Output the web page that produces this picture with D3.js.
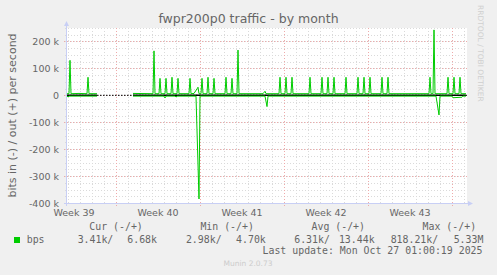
<!DOCTYPE html>
<html>
<head>
<meta charset="utf-8">
<script src="https://cdn.jsdelivr.net/npm/d3@7"></script>
<style>
body { margin: 0; background: #f0f0f0; }
svg { display: block; }
text { font-family: "DejaVu Sans", sans-serif; fill: #666; }
.mono { font-family: "DejaVu Sans Mono", monospace; }
</style>
</head>
<body>
<div id="chart-area"></div>
<script>
const WIDTH = 497, HEIGHT = 275
const PLOT = { LEFT: 67, RIGHT: 467, TOP: 28, BOTTOM: 203 }

// time: hours after t0, the graph spans 800 h (33 days + a bit)
const t0 = new Date(2025, 8, 24, 22)
const t1 = d3.timeHour.offset(t0, 800)

// out (+), [hour, kbit/s], null = no data
const outData = [
  [0, 6], [4, 6], [6, 130], [8, 6], [24, 7], [40, 6], [42, 67], [44, 6], [60, 6], [62, null],
  [132, 7], [172, 6], [174, 165], [176, 6], [184, 6], [186, 63], [188, 6], [196, 6], [198, 63], [200, 6],
  [208, 6], [210, 67], [212, 6], [220, 6], [222, 63], [224, 6], [244, 6], [246, 63], [248, 6],
  [254, 7], [260, 24], [262, 30], [264, 6], [268, 6], [270, 63], [272, 6], [280, 6], [282, 67], [284, 6],
  [292, 6], [294, 63], [296, 6], [316, 6], [318, 67], [320, 6], [328, 6], [330, 63], [332, 6],
  [340, 6], [342, 168], [344, 6], [392, 6], [396, 15], [398, 6],
  [424, 6], [426, 67], [428, 6], [436, 6], [438, 67], [440, 6], [448, 6], [450, 67], [452, 6],
  [484, 6], [486, 67], [488, 6], [508, 6], [510, 67], [512, 6], [520, 6], [522, 67], [524, 6],
  [532, 6], [534, 67], [536, 6], [556, 6], [558, 67], [560, 6], [580, 6], [582, 67], [584, 6],
  [592, 6], [594, 67], [596, 6], [604, 6], [606, 67], [608, 6], [628, 6], [630, 67], [632, 6],
  [640, 6], [642, 67], [644, 6], [724, 6], [726, 67], [728, 6], [732, 6], [734, 243], [736, 6],
  [760, 6], [762, 67], [764, 6], [772, 6], [774, 67], [776, 6], [784, 6], [786, 67], [788, 6], [798, 6]
]

// in (-), drawn negative
const inData = [
  [0, -3], [2, -6], [4, -3], [60, -3], [62, null],
  [132, -3], [194, -3], [196, -10], [198, -3], [216, -3], [218, -6], [220, -3],
  [258, -3], [264, -385], [266, -3], [396, -3], [400, -42], [402, -3],
  [738, -3], [744, -73], [746, -3], [770, -3], [772, -9], [790, -7], [792, -3], [798, -3]
]

const yMajor = [-400, -300, -200, -100, 0, 100, 200]
const yMinor = d3.range(-400, 251, 25)

const legendHead = ["Cur (-/+)", "Min (-/+)", "Avg (-/+)", "Max (-/+)"]
const legendIn = ["3.41k/", "2.98k/", "6.31k/", "818.21k/"]
const legendOut = ["6.68k", "4.70k", "13.44k", "5.33M"]

const GREEN = "#00cc00"
const AXIS = "#c8cff5"

const svg = d3.select("#chart-area").append("svg")
  .attr("width", WIDTH)
  .attr("height", HEIGHT)

svg.append("rect").attr("width", WIDTH).attr("height", HEIGHT).attr("fill", "#f0f0f0")

// scales
const x = d3.scaleTime().domain([t0, t1]).range([PLOT.LEFT, PLOT.RIGHT])
const y = d3.scaleLinear().domain([-400, 250]).range([PLOT.BOTTOM, PLOT.TOP])
const hx = h => x(d3.timeHour.offset(t0, h))

svg.append("rect")
  .attr("x", PLOT.LEFT).attr("y", PLOT.TOP)
  .attr("width", PLOT.RIGHT - PLOT.LEFT).attr("height", PLOT.BOTTOM - PLOT.TOP)
  .attr("fill", "#fff")

// grid
const days = d3.timeDay.range(t0, t1)
const weeks = d3.timeMonday.range(t0, t1)
const grid = svg.append("g").attr("shape-rendering", "crispEdges")

grid.selectAll(".vmin").data(days).enter().append("line")
  .attr("x1", d => Math.round(x(d)) + 0.5).attr("x2", d => Math.round(x(d)) + 0.5)
  .attr("y1", PLOT.TOP).attr("y2", PLOT.BOTTOM + 2)
  .attr("stroke", "#dadada").attr("stroke-dasharray", "1,2")

grid.selectAll(".hmin").data(yMinor).enter().append("line")
  .attr("x1", PLOT.LEFT - 2).attr("x2", PLOT.RIGHT)
  .attr("y1", d => Math.round(y(d)) + 0.5).attr("y2", d => Math.round(y(d)) + 0.5)
  .attr("stroke", "#dadada").attr("stroke-dasharray", "1,2")

grid.selectAll(".vmaj").data(weeks).enter().append("line")
  .attr("x1", d => Math.round(x(d)) + 0.5).attr("x2", d => Math.round(x(d)) + 0.5)
  .attr("y1", PLOT.TOP).attr("y2", PLOT.BOTTOM + 3)
  .attr("stroke", "#eeaaaa").attr("stroke-dasharray", "1,2")

grid.selectAll(".hmaj").data(yMajor).enter().append("line")
  .attr("x1", PLOT.LEFT - 3).attr("x2", PLOT.RIGHT)
  .attr("y1", d => Math.round(y(d)) + 0.5).attr("y2", d => Math.round(y(d)) + 0.5)
  .attr("stroke", "#eeaaaa").attr("stroke-dasharray", "1,2")

// zero line
svg.append("line")
  .attr("x1", PLOT.LEFT).attr("x2", PLOT.RIGHT)
  .attr("y1", y(0)).attr("y2", y(0))
  .attr("stroke", "#000").attr("stroke-dasharray", "1.5,1.5")

const defined = d => d[1] !== null
const zeroLine = d3.line().defined(defined).x(d => hx(d[0])).y(() => y(0))
svg.append("path")
  .attr("d", zeroLine(inData))
  .attr("fill", "none").attr("stroke", "#000").attr("stroke-width", 1.5)

// data lines
const line = d3.line().defined(defined).x(d => hx(d[0])).y(d => y(d[1]))
svg.append("path")
  .attr("d", line(inData))
  .attr("fill", "none").attr("stroke", GREEN).attr("stroke-width", 1)
svg.append("path")
  .attr("d", line(outData))
  .attr("fill", "none").attr("stroke", GREEN).attr("stroke-width", 1)

// axes with arrows
svg.append("line")
  .attr("x1", PLOT.LEFT - 3).attr("x2", PLOT.RIGHT + 1)
  .attr("y1", PLOT.BOTTOM + 0.5).attr("y2", PLOT.BOTTOM + 0.5)
  .attr("stroke", AXIS)
svg.append("line")
  .attr("x1", PLOT.LEFT - 0.5).attr("x2", PLOT.LEFT - 0.5)
  .attr("y1", PLOT.BOTTOM + 3).attr("y2", PLOT.TOP - 4)
  .attr("stroke", AXIS)
svg.append("path")
  .attr("d", `M${PLOT.RIGHT + 1},${PLOT.BOTTOM - 2} L${PLOT.RIGHT + 6},${PLOT.BOTTOM + 0.5} L${PLOT.RIGHT + 1},${PLOT.BOTTOM + 3}Z`)
  .attr("fill", AXIS)
svg.append("path")
  .attr("d", `M${PLOT.LEFT - 3},${PLOT.TOP - 2} L${PLOT.LEFT - 0.5},${PLOT.TOP - 7} L${PLOT.LEFT + 2},${PLOT.TOP - 2}Z`)
  .attr("fill", AXIS)

// tick labels
svg.selectAll(".ylab").data(yMajor).enter().append("text")
  .attr("x", PLOT.LEFT - 8).attr("y", d => y(d) + 3.5)
  .attr("text-anchor", "end").attr("font-size", 9.5)
  .text(d => d === 0 ? "0" : d + " k")

const fmtWeek = d3.timeFormat("Week %V")
const weekLabels = d3.timeMonday.range(d3.timeMonday.floor(t0), t1)
  .map(d => ({ d, c: d3.timeHour.offset(d, 84) }))
  .filter(w => w.c >= t0 && w.c <= t1)
svg.selectAll(".xlab").data(weekLabels).enter().append("text")
  .attr("x", w => x(w.c)).attr("y", 216)
  .attr("text-anchor", "middle").attr("font-size", 9.5)
  .text(w => fmtWeek(w.d))

// titles
svg.append("text")
  .attr("x", 248.5).attr("y", 23)
  .attr("text-anchor", "middle").attr("font-size", 12.5)
  .text("fwpr200p0 traffic - by month")

svg.append("text")
  .attr("transform", `translate(15.5, ${(PLOT.TOP + PLOT.BOTTOM) / 2}) rotate(-90)`)
  .attr("text-anchor", "middle").attr("font-size", 11)
  .text("bits in (-) / out (+) per second")

svg.append("text")
  .attr("transform", "translate(478, 5) rotate(90)")
  .attr("font-size", 7.5).style("fill", "#cfcfcf")
  .text("RRDTOOL / TOBI OETIKER")

// legend
const leg = svg.append("g").attr("class", "mono").attr("font-size", 9.9)
leg.selectAll(".lh").data(legendHead).enter().append("text")
  .attr("class", "mono")
  .attr("x", (d, i) => 89.3 + i * 111.1).attr("y", 230)
  .text(d => d)
svg.append("rect").attr("x", 14).attr("y", 237).attr("width", 6).attr("height", 6).attr("fill", GREEN)
leg.append("text").attr("class", "mono").attr("x", 26.7).attr("y", 243).text("bps")
leg.selectAll(".li").data(legendIn).enter().append("text")
  .attr("class", "mono")
  .attr("x", (d, i) => 113.3 + i * 108.3).attr("y", 243)
  .attr("text-anchor", "end")
  .text(d => d)
leg.selectAll(".lo").data(legendOut).enter().append("text")
  .attr("class", "mono")
  .attr("x", (d, i) => 157 + i * 108.8).attr("y", 243)
  .attr("text-anchor", "end")
  .text(d => d)
leg.append("text").attr("class", "mono")
  .attr("x", 482.5).attr("y", 254).attr("text-anchor", "end")
  .text("Last update: Mon Oct 27 01:00:19 2025")

svg.append("text")
  .attr("x", 248).attr("y", 266)
  .attr("text-anchor", "middle").attr("font-size", 7.5).style("fill", "#cccccc")
  .text("Munin 2.0.73")
</script>
</body>
</html>
